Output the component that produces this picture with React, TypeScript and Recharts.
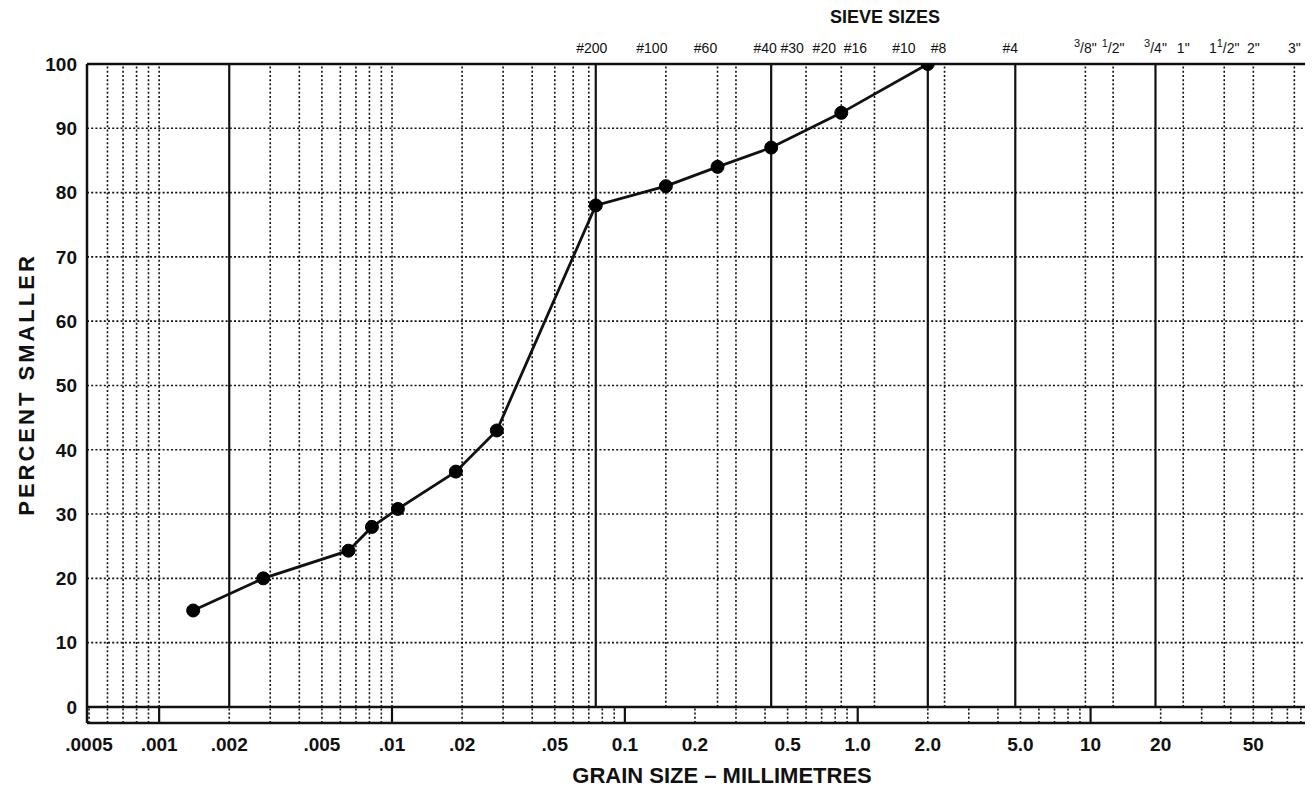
import { ComposedChart, Label, Line, ReferenceLine, XAxis, YAxis } from 'recharts'

// hydrometer + sieve analysis
const grainSize = [0.0014, 0.0028, 0.0065, 0.0082, 0.0106, 0.0188, 0.0282, 0.075, 0.15, 0.25, 0.425, 0.85, 2.0]
const percentSmaller = [15, 20, 24.3, 28, 30.8, 36.6, 43, 78, 81, 84, 87, 92.4, 100]

const mmTicks = [0.0005, 0.001, 0.002, 0.005, 0.01, 0.02, 0.05, 0.1, 0.2, 0.5, 1, 2, 5, 10, 20, 50]
const mmLabels = ['.0005', '.001', '.002', '.005', '.01', '.02', '.05', '0.1', '0.2', '0.5', '1.0', '2.0', '5.0', '10', '20', '50']

const sieveSizes = [0.075, 0.15, 0.25, 0.425, 0.6, 0.85, 1.18, 2.0, 2.36, 4.75, 9.5, 12.5, 19, 25, 37.5, 50, 75]
const sieveLabels = ['#200', '#100', '#60', '#40', '#30', '#20', '#16', '#10', '#8', '#4', '3/8"', '1/2"', '3/4"', '1"', '1 1/2"', '2"', '3"']
// the printed sieve names sit a little left of their lines
const sieveLabelDx = [-4, -14, -12, -6, -14, -17, -19, -24, -6, -5, 0, 0, 0, 0, 0, 0, 0]

const percentTicks = [0, 10, 20, 30, 40, 50, 60, 70, 80, 90, 100]
const gridPercents = [10, 20, 30, 40, 50, 60, 70, 80, 90]

// heavy lines: clay / silt / sand / gravel limits
const boundarySizes = [0.002, 0.075, 0.425, 2.0, 4.75, 19]
const dottedSizes = [
  0.0006, 0.0007, 0.0008, 0.0009, 0.001, 0.003, 0.004, 0.005, 0.006, 0.007, 0.008, 0.009, 0.01,
  0.02, 0.03, 0.04, 0.05, 0.06, 0.07, 0.15, 0.25, 0.3, 0.6, 0.85, 1.18, 2.36, 9.5, 12.5, 25, 37.5, 50, 75,
]

const decades = [0.001, 0.01, 0.1, 1, 10]
const sizeDomain = [0.00049, 85]
const pctDomain = [-2.5, 100]

// log-cycle strip under the zero line
const stripMinor: number[] = []
for (const d of [0.0001, 0.001, 0.01, 0.1, 1, 10]) {
  for (let m = 2; m <= 9; m++) {
    const v = d * m
    if (v > sizeDomain[0] && v < sizeDomain[1]) stripMinor.push(v)
  }
}

const data = grainSize.map((size, i) => ({ size, pct: percentSmaller[i] }))

const ink = '#111'
const dots = '2 2.2'

// sieve name over its line, fractions like 3/8" with a raised numerator
function SieveText({ viewBox, label, dx }: any) {
  const x = viewBox.x + dx
  const y = viewBox.y - 11
  const m = label.match(/^(\d+ )?(\d+)\/(\d+)(")$/)
  return (
    <text x={x} y={y} textAnchor='middle' fontSize={14} fill={ink}>
      {m ? (
        <>
          {m[1] ? <tspan>{m[1].trim()}</tspan> : null}
          <tspan fontSize={11} dy={-6}>{m[2]}</tspan>
          <tspan dy={6}>/{m[3]}"</tspan>
        </>
      ) : (
        label
      )}
    </text>
  )
}

function PercentTitle({ viewBox }: any) {
  const cx = viewBox.x + 18
  const cy = viewBox.y + viewBox.height / 2 - 9
  return (
    <text
      x={cx}
      y={cy}
      transform={`rotate(-90, ${cx}, ${cy})`}
      textAnchor='middle'
      dominantBaseline='central'
      fontSize={22}
      fontWeight={700}
      letterSpacing={3}
      fill={ink}
    >
      PERCENT SMALLER
    </text>
  )
}

export default function App() {
  return (
    <div style={{ fontFamily: '"Liberation Sans", Arial, sans-serif', background: '#fff' }}>
      <ComposedChart width={1305} height={780} data={data} margin={{ top: 0, right: 6, bottom: 0, left: 0 }}>
        <XAxis
          xAxisId='mm'
          dataKey='size'
          type='number'
          scale='log'
          domain={sizeDomain}
          allowDataOverflow
          ticks={mmTicks}
          interval={0}
          tickFormatter={(v, i) => mmLabels[i] ?? String(v)}
          height={65}
          tickSize={0}
          tickMargin={15}
          tickLine={false}
          axisLine={{ stroke: ink, strokeWidth: 2.5 }}
          tick={{ fill: ink, fontSize: 19, fontWeight: 700 }}
        >
          <Label
            value='GRAIN SIZE – MILLIMETRES'
            position='insideBottom'
            offset={5}
            dx={25}
            style={{ fontSize: 22, fontWeight: 700, fill: ink }}
          />
        </XAxis>
        <XAxis
          xAxisId='sieve'
          orientation='top'
          type='number'
          scale='log'
          domain={sizeDomain}
          allowDataOverflow
          height={56}
          tick={false}
          tickLine={false}
          axisLine={{ stroke: ink, strokeWidth: 2.5 }}
        >
          <Label
            value='SIEVE SIZES'
            position='insideTop'
            offset={2}
            dx={188}
            style={{ fontSize: 18, fontWeight: 700, fill: ink }}
          />
        </XAxis>
        <YAxis
          type='number'
          domain={pctDomain}
          allowDataOverflow
          ticks={percentTicks}
          interval={0}
          width={79}
          tickSize={0}
          tickMargin={10}
          tickLine={false}
          axisLine={{ stroke: ink, strokeWidth: 2.5 }}
          tick={{ fill: ink, fontSize: 19, fontWeight: 700 }}
        >
          <Label content={(p: any) => <PercentTitle {...p} />} />
        </YAxis>

        {gridPercents.map((p) => (
          <ReferenceLine key={`h${p}`} xAxisId='mm' y={p} stroke={ink} strokeWidth={1.6} strokeDasharray={dots} />
        ))}
        {dottedSizes.map((s) => (
          <ReferenceLine
            key={`d${s}`}
            xAxisId='mm'
            segment={[{ x: s, y: 0 }, { x: s, y: 100 }]}
            stroke={ink}
            strokeWidth={1.6}
            strokeDasharray={dots}
          />
        ))}
        {boundarySizes.map((s) => (
          <ReferenceLine
            key={`b${s}`}
            xAxisId='mm'
            segment={[{ x: s, y: 0 }, { x: s, y: 100 }]}
            stroke={ink}
            strokeWidth={2.2}
          />
        ))}
        {stripMinor.map((s) => (
          <ReferenceLine
            key={`sm${s}`}
            xAxisId='mm'
            segment={[{ x: s, y: pctDomain[0] }, { x: s, y: 0 }]}
            stroke={ink}
            strokeWidth={1.6}
            strokeDasharray={dots}
          />
        ))}
        {decades.map((s) => (
          <ReferenceLine
            key={`sd${s}`}
            xAxisId='mm'
            segment={[{ x: s, y: pctDomain[0] }, { x: s, y: 0 }]}
            stroke={ink}
            strokeWidth={2.2}
          />
        ))}
        <ReferenceLine xAxisId='mm' y={0} stroke={ink} strokeWidth={2.5} />
        <ReferenceLine xAxisId='mm' x={sizeDomain[1]} stroke={ink} strokeWidth={2.5} />

        {sieveSizes.map((s, i) => (
          <ReferenceLine
            key={`sv${s}`}
            xAxisId='mm'
            x={s}
            stroke='none'
            label={(p: any) => <SieveText {...p} label={sieveLabels[i]} dx={sieveLabelDx[i]} />}
          />
        ))}

        <Line
          xAxisId='mm'
          dataKey='pct'
          stroke={ink}
          strokeWidth={2.8}
          dot={{ r: 6.5, fill: '#000', stroke: '#000', strokeWidth: 1 }}
          activeDot={false}
          isAnimationActive={false}
        />
      </ComposedChart>
    </div>
  )
}
